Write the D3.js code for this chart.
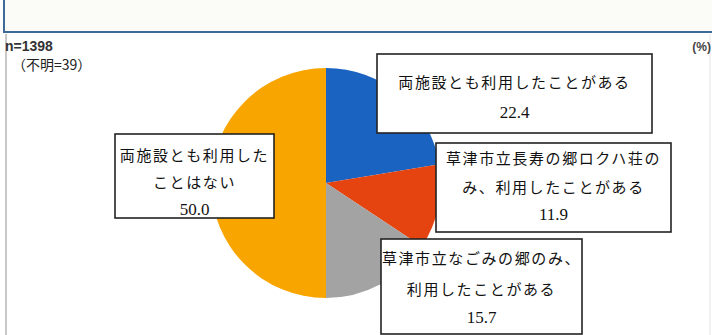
<!DOCTYPE html>
<html>
<head>
<meta charset="utf-8">
<script src="https://cdn.jsdelivr.net/npm/d3@7"></script>
<style>
  body { margin: 0; background: #fff; }
  svg { display: block; }
</style>
</head>
<body>
<div id="vis"></div>
<script>
// data
const categories = [
  "両施設とも利用したことがある",
  "草津市立長寿の郷ロクハ荘のみ、利用したことがある",
  "草津市立なごみの郷のみ、利用したことがある",
  "両施設とも利用したことはない"
];
const values = [22.4, 11.9, 15.7, 50.0];
const colors = ["#1a63c0", "#e5430f", "#a3a3a3", "#f8a500"];
// label text split as in the picture
const labelLines = [
  ["両施設とも利用したことがある"],
  ["草津市立長寿の郷ロクハ荘の", "み、利用したことがある"],
  ["草津市立なごみの郷のみ、", "利用したことがある"],
  ["両施設とも利用した", "ことはない"]
];
const sampleText = "n=1398";
const unknownText = "（不明=39）";
const unitText = "(%)";

// label box layout: x, y, w, h and line baselines
const boxes = [
  { x: 377, y: 54, w: 275, h: 79, rows: [88, 118] },
  { x: 436, y: 143, w: 235, h: 89, rows: [164, 193, 220] },
  { x: 381, y: 239, w: 201, h: 95, rows: [264, 295, 323] },
  { x: 115, y: 134, w: 159, h: 84, rows: [161, 188, 215] }
];

const W = 712, H = 335;
const svg = d3.select("#vis").append("svg")
  .attr("width", W)
  .attr("height", H);

// top frame (previous section) and chart frame
svg.append("rect")
  .attr("x", 4).attr("y", -4)
  .attr("width", 720).attr("height", 36)
  .attr("fill", "#fbfcf8")
  .attr("stroke", "#3d6a96")
  .attr("stroke-width", 2);
svg.append("line")
  .attr("x1", 6).attr("x2", 6)
  .attr("y1", 34).attr("y2", H)
  .attr("stroke", "#c8c8c8").attr("stroke-width", 2);
svg.append("line")
  .attr("x1", 710).attr("x2", 710)
  .attr("y1", 34).attr("y2", H)
  .attr("stroke", "#e4e4e4").attr("stroke-width", 1);

svg.append("text")
  .attr("x", 5).attr("y", 51)
  .attr("font-family", "Liberation Sans, Arial, sans-serif")
  .attr("font-size", 14)
  .attr("font-weight", "bold")
  .attr("fill", "#333")
  .text(sampleText);
svg.append("text")
  .attr("x", 12).attr("y", 70)
  .attr("font-family", "Noto Sans CJK JP, sans-serif")
  .attr("font-size", 14)
  .attr("fill", "#222")
  .text(unknownText);
svg.append("text")
  .attr("x", 711).attr("y", 51)
  .attr("text-anchor", "end")
  .attr("font-family", "Liberation Sans, Arial, sans-serif")
  .attr("font-size", 12)
  .attr("font-weight", "bold")
  .attr("fill", "#444")
  .text(unitText);

// pie
const cx = 326, cy = 183, R = 115;
const pie = d3.pie().sort(null).value(d => d);
const arc = d3.arc().innerRadius(0).outerRadius(R);

const pieGroup = svg.append("g")
  .attr("transform", `translate(${cx},${cy})`);
pieGroup.selectAll("path")
  .data(pie(values))
  .enter()
  .append("path")
  .attr("d", arc)
  .attr("fill", (d, i) => colors[i]);

// label boxes
const labelFont = "Liberation Serif, Noto Sans CJK JP, serif";
const g = svg.append("g").selectAll("g")
  .data(boxes)
  .enter()
  .append("g");

g.append("rect")
  .attr("x", d => d.x).attr("y", d => d.y)
  .attr("width", d => d.w).attr("height", d => d.h)
  .attr("fill", "#fff")
  .attr("stroke", "#222")
  .attr("stroke-width", 1.6);

g.each(function (b, i) {
  const rows = labelLines[i].concat([values[i].toFixed(1)]);
  const last = rows.length - 1;
  d3.select(this).selectAll("text")
    .data(rows)
    .enter()
    .append("text")
    .attr("x", b.x + b.w / 2)
    .attr("y", (t, j) => b.rows[j])
    .attr("text-anchor", "middle")
    .attr("font-family", labelFont)
    .attr("font-size", (t, j) => j < last ? 15 : 17)
    .attr("letter-spacing", (t, j) => j < last ? 1.6 : 0)
    .attr("fill", "#111")
    .text(t => t);
});
</script>
</body>
</html>
